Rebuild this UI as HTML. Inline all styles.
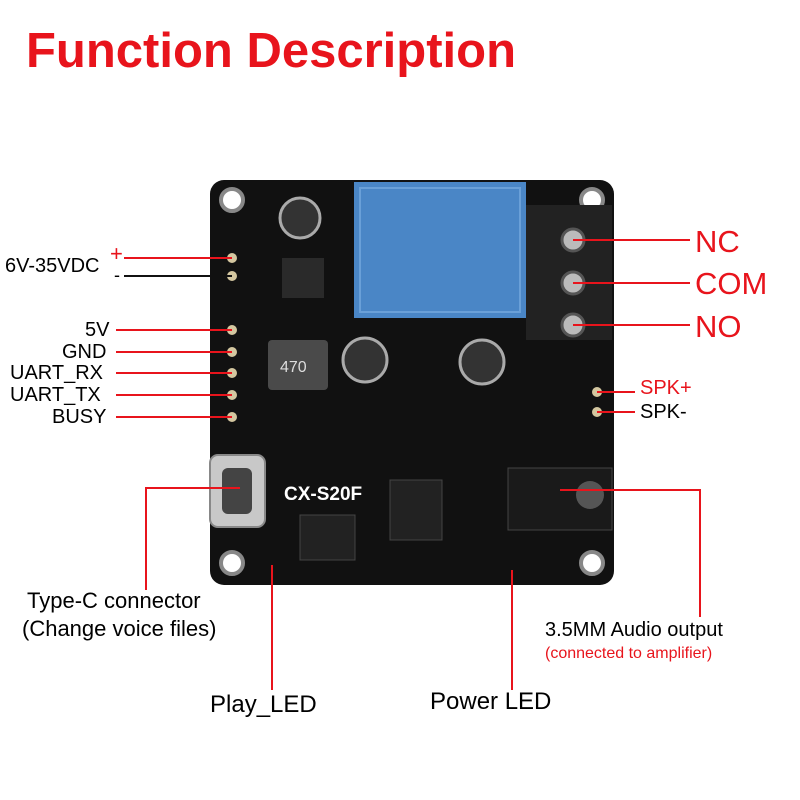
<!DOCTYPE html>
<html><head><meta charset="utf-8"><style>
body{margin:0;width:800px;height:800px;background:#fff;position:relative;overflow:hidden;font-family:"Liberation Sans",sans-serif}
.t{position:absolute;white-space:nowrap;line-height:1}
.r{color:#e8141c}
</style></head><body>
<div class="t r" style="left:26px;top:27px;font-size:49px;font-weight:bold;">Function Description</div>
<svg width="800" height="800" style="position:absolute;left:0;top:0">
<rect x="210" y="180" width="404" height="405" rx="14" fill="#111"/>
<g fill="#fff" stroke="#888" stroke-width="4">
<circle cx="232" cy="200" r="11"/><circle cx="592" cy="200" r="11"/>
<circle cx="232" cy="563" r="11"/><circle cx="592" cy="563" r="11"/></g>
<rect x="354" y="182" width="172" height="136" fill="#4a86c6"/>
<rect x="360" y="188" width="160" height="124" fill="none" stroke="#6aa0d8" stroke-width="2"/>
<rect x="526" y="205" width="86" height="135" fill="#222"/>
<g fill="#bbb" stroke="#555" stroke-width="3">
<circle cx="573" cy="240" r="11"/><circle cx="573" cy="283" r="11"/><circle cx="573" cy="325" r="11"/></g>
<circle cx="300" cy="218" r="20" fill="#333" stroke="#aaa" stroke-width="3"/>
<circle cx="365" cy="360" r="22" fill="#333" stroke="#aaa" stroke-width="3"/>
<circle cx="482" cy="362" r="22" fill="#333" stroke="#aaa" stroke-width="3"/>
<rect x="268" y="340" width="60" height="50" rx="4" fill="#4a4a4a"/>
<text x="280" y="372" fill="#ddd" font-size="16" font-family="Liberation Sans">470</text>
<rect x="282" y="258" width="42" height="40" fill="#2a2a2a"/>
<rect x="390" y="480" width="52" height="60" fill="#222" stroke="#444"/>
<rect x="300" y="515" width="55" height="45" fill="#222" stroke="#444"/>
<g fill="#d4c7a0"><circle cx="232" cy="258" r="5"/><circle cx="232" cy="276" r="5"/>
<circle cx="232" cy="330" r="5"/><circle cx="232" cy="352" r="5"/><circle cx="232" cy="373" r="5"/><circle cx="232" cy="395" r="5"/><circle cx="232" cy="417" r="5"/>
<circle cx="597" cy="392" r="5"/><circle cx="597" cy="412" r="5"/></g>
<rect x="210" y="455" width="55" height="72" rx="8" fill="#c8c8c8" stroke="#888" stroke-width="2"/>
<rect x="222" y="468" width="30" height="46" rx="6" fill="#444"/>
<rect x="508" y="468" width="104" height="62" fill="#1a1a1a" stroke="#444"/>
<circle cx="590" cy="495" r="14" fill="#555"/>
<text x="284" y="500" fill="#fff" font-size="19" font-weight="bold" font-family="Liberation Sans">CX-S20F</text>
<g stroke="#e8141c" stroke-width="2" fill="none">
<line x1="124" y1="258" x2="232" y2="258"/>
<line x1="116" y1="330" x2="232" y2="330"/>
<line x1="116" y1="352" x2="232" y2="352"/>
<line x1="116" y1="373" x2="232" y2="373"/>
<line x1="116" y1="395" x2="232" y2="395"/>
<line x1="116" y1="417" x2="232" y2="417"/>
<line x1="573" y1="240" x2="690" y2="240"/>
<line x1="573" y1="283" x2="690" y2="283"/>
<line x1="573" y1="325" x2="690" y2="325"/>
<line x1="597" y1="392" x2="635" y2="392"/>
<line x1="597" y1="412" x2="635" y2="412"/>
<polyline points="240,488 146,488 146,590"/>
<line x1="272" y1="565" x2="272" y2="690"/>
<line x1="512" y1="570" x2="512" y2="690"/>
<polyline points="560,490 700,490 700,617"/>
</g>
<line x1="124" y1="276" x2="232" y2="276" stroke="#111" stroke-width="2"/>
</svg>
<div class="t" style="left:5px;top:256px;font-size:20px">6V-35VDC</div>
<div class="t r" style="left:110px;top:243px;font-size:22px">+</div>
<div class="t" style="left:114px;top:266px;font-size:18px">-</div>
<div class="t" style="left:85px;top:320px;font-size:20px">5V</div>
<div class="t" style="left:62px;top:342px;font-size:20px">GND</div>
<div class="t" style="left:10px;top:363px;font-size:20px">UART_RX</div>
<div class="t" style="left:10px;top:385px;font-size:20px">UART_TX</div>
<div class="t" style="left:52px;top:407px;font-size:20px">BUSY</div>
<div class="t r" style="left:695px;top:226px;font-size:31px">NC</div>
<div class="t r" style="left:695px;top:268px;font-size:31px">COM</div>
<div class="t r" style="left:695px;top:311px;font-size:31px">NO</div>
<div class="t r" style="left:640px;top:378px;font-size:20px">SPK+</div>
<div class="t" style="left:640px;top:402px;font-size:20px">SPK-</div>
<div class="t" style="left:27px;top:590px;font-size:22px">Type-C connector</div>
<div class="t" style="left:22px;top:618px;font-size:22px">(Change voice files)</div>
<div class="t" style="left:210px;top:693px;font-size:24px">Play_LED</div>
<div class="t" style="left:430px;top:690px;font-size:24px">Power LED</div>
<div class="t" style="left:545px;top:620px;font-size:20px">3.5MM Audio output</div>
<div class="t r" style="left:545px;top:646px;font-size:16px">(connected to amplifier)</div>
</body></html>
